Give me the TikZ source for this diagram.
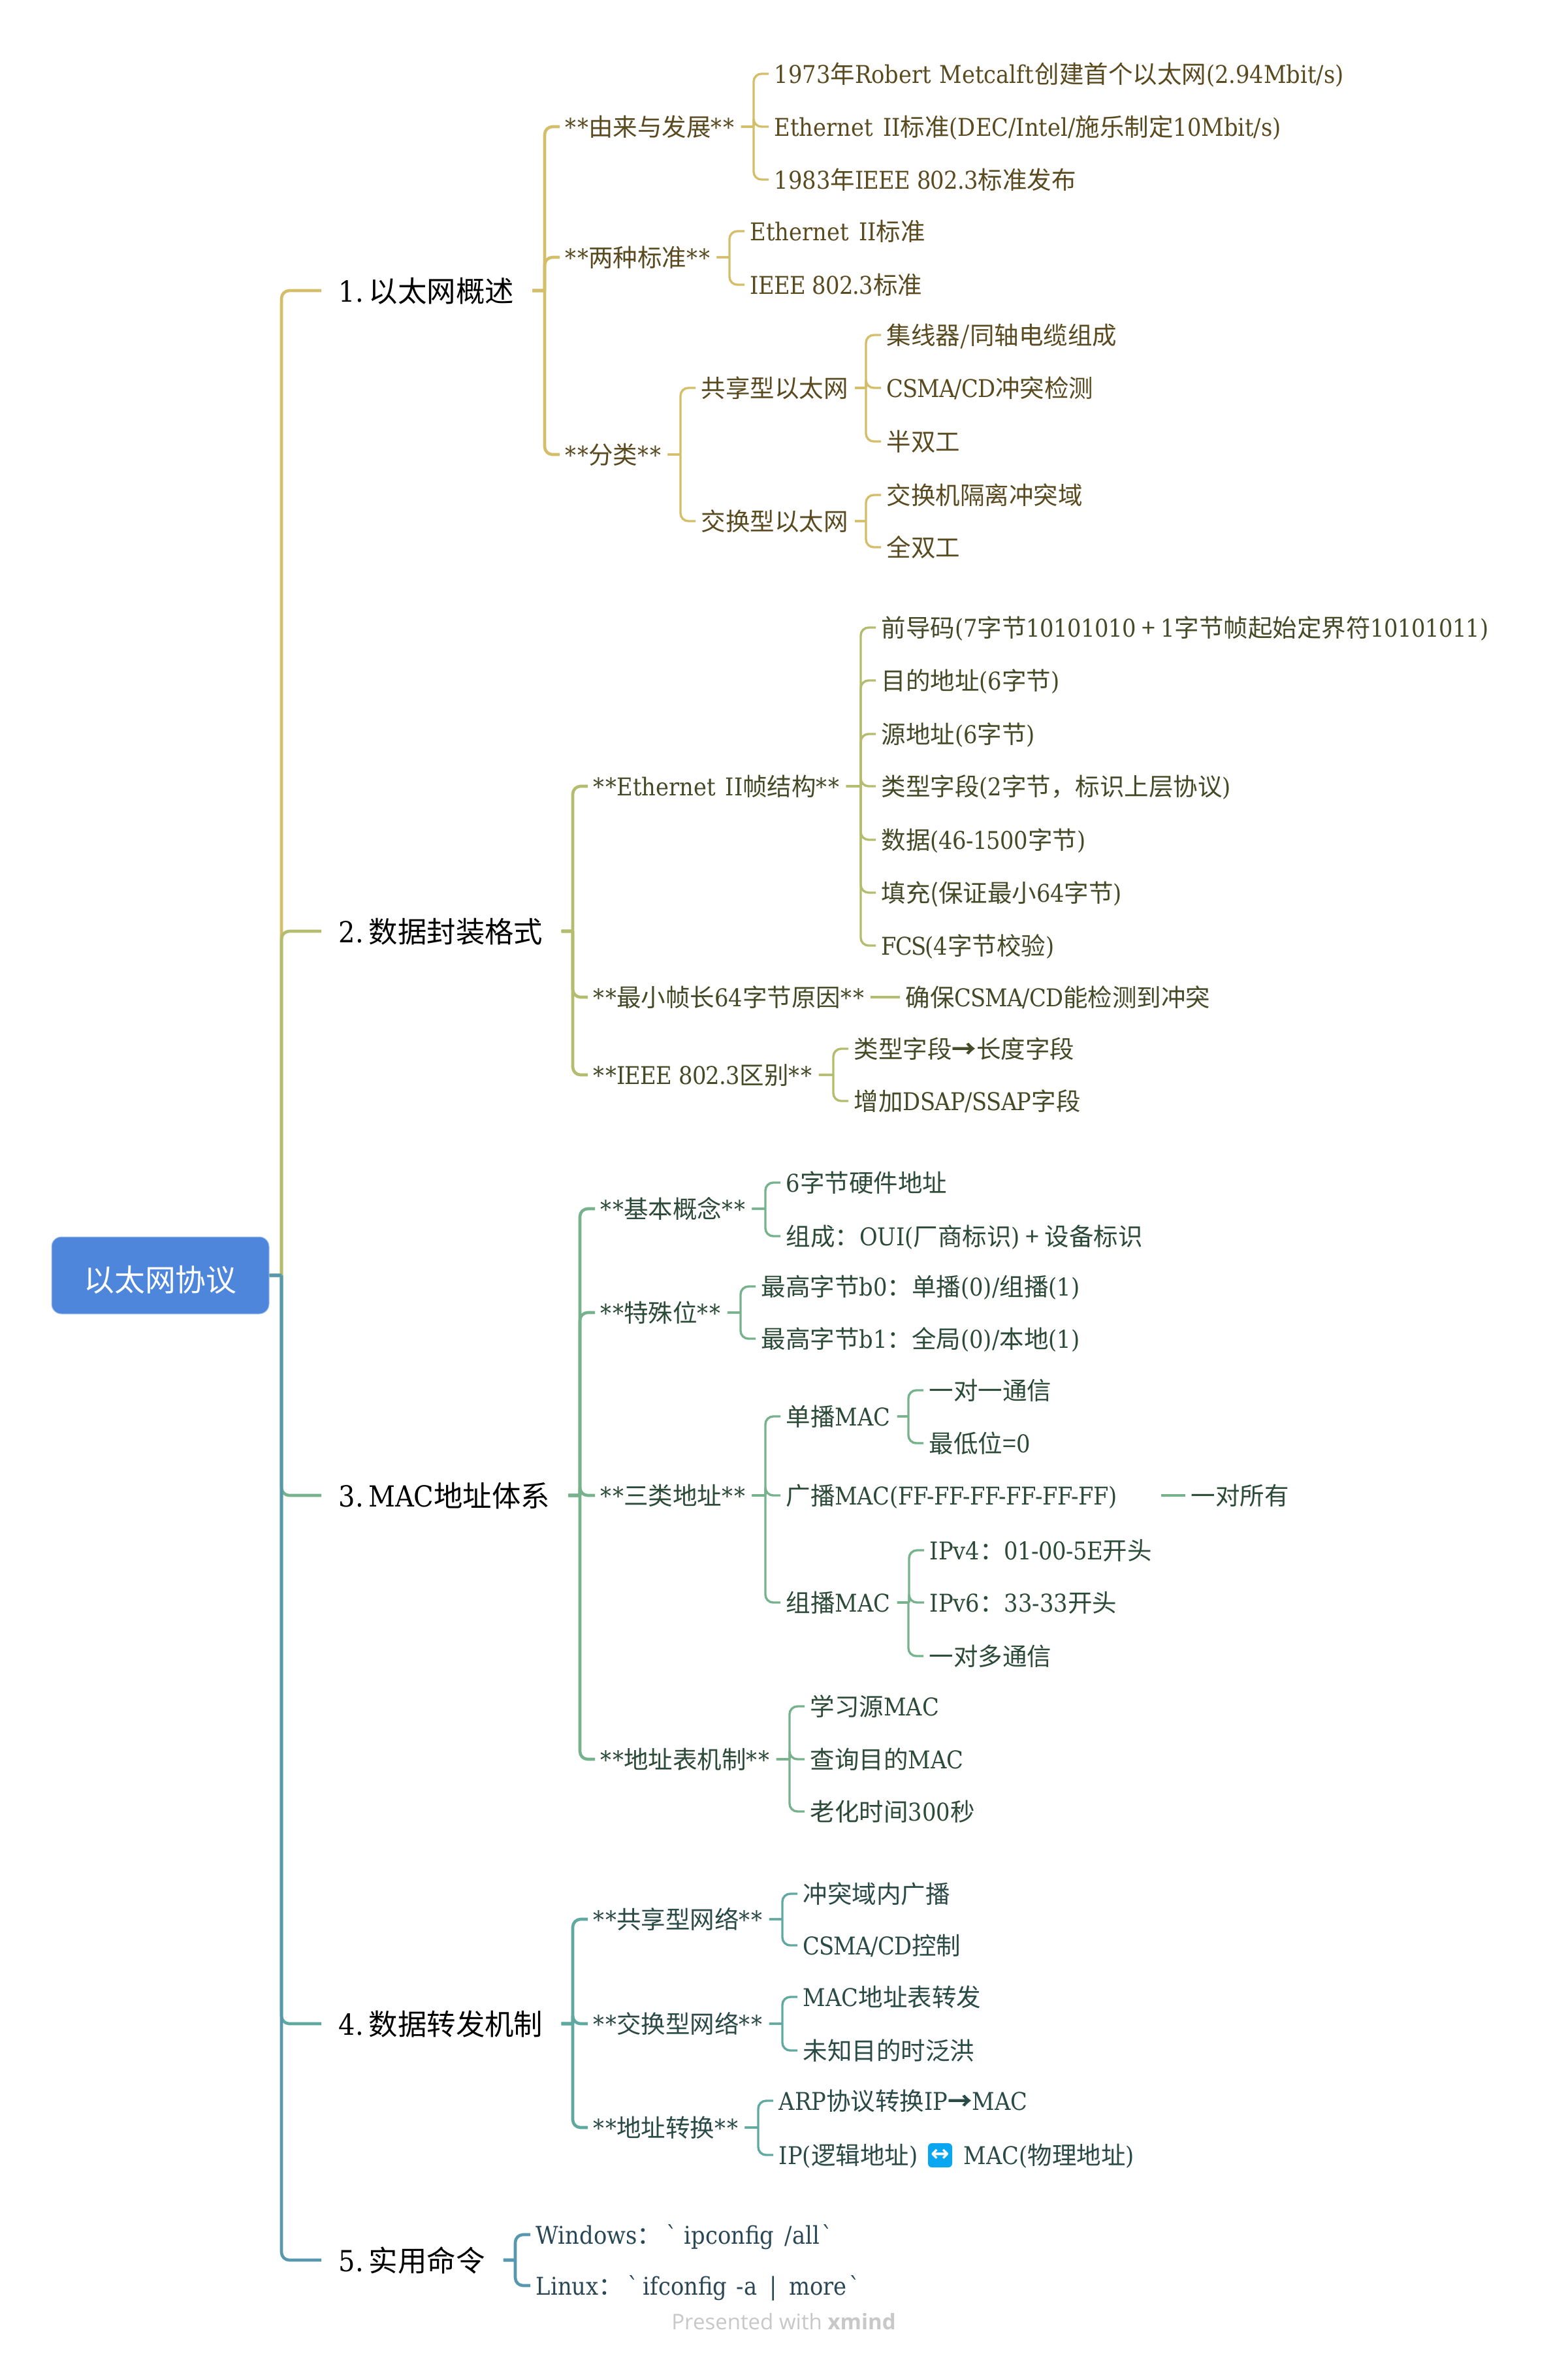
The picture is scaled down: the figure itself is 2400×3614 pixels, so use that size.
\documentclass[tikz,border=0pt]{standalone}
\usepackage{fontspec}
\setmainfont{DejaVu Serif Condensed}
\newfontfamily\cjkf{Noto Sans CJK SC}
\newfontfamily\markf{Open Sans}
\newfontfamily\symf{DejaVu Sans}
\newfontfamily\rawf{DejaVu Serif Condensed}
\newcommand\zh[1]{{\cjkf #1}}
\newcommand\st{{\addfontfeature{LetterSpace=5}**}}
\newcommand\ie{{\addfontfeature{LetterSpace=-2}IEEE 802.3}}
\newcommand\eth{Ethernet\kern2.2pt\ II}
\newcommand\csma{{\addfontfeature{LetterSpace=-2.5}CSMA/CD}}
\newcommand\dg[1]{{\addfontfeature{LetterSpace=-1.5}#1}}
\newcommand\bq{{\rawf\symbol{96}}}
\newcommand\arr{{\cjkf\bfseries →}}
\definecolor{la}{HTML}{D4BE6A}\definecolor{ta}{HTML}{5A4A1F}
\definecolor{lb}{HTML}{B4BC6E}\definecolor{tb}{HTML}{454A26}
\definecolor{lc}{HTML}{76B28C}\definecolor{tc}{HTML}{2B4A38}
\definecolor{ld}{HTML}{5FA9A0}\definecolor{td}{HTML}{2A4A46}
\definecolor{le}{HTML}{5898AE}\definecolor{te}{HTML}{2A4755}
\definecolor{rootc}{HTML}{4E86DC}\definecolor{rootb}{HTML}{A9C4F0}
\definecolor{iconc}{HTML}{0BA6F0}\definecolor{markc}{HTML}{C8C8C8}
\tikzset{
  rootbox/.style={fill=rootc,draw=rootb,line width=0.5pt,rounded corners=7.5pt,minimum width=166.5pt,minimum height=59pt,inner sep=0pt,text=white,text height=24pt,text depth=0pt,font=\fontsize{23.4}{27}\selectfont},
  topic/.style={anchor=west,inner ysep=0pt,inner xsep=14pt,text=black,text height=23.6pt,text depth=6pt,font=\fontsize{22.2}{26}\selectfont,execute at begin node={\hskip-0.8pt}},
  sub/.style={anchor=west,inner ysep=0pt,inner xsep=5pt,text=#1,text height=19.6pt,text depth=5pt,font=\fontsize{18.75}{23}\selectfont,execute at begin node={\hskip-0.8pt}},
  wire/.style={draw=#1,line width=2.3pt},
  thin wire/.style={draw=#1,line width=1.7pt},
}
\newcommand\elbow[4][11.5pt]{\draw[#2] (#3.east) -- ([xshift=-#1]#4.west |- #3.east) [rounded corners=6pt] ([xshift=-#1]#4.west |- #3.east) -- ([xshift=-#1]#4.west) -- (#4.west);}
\begin{document}
\begin{tikzpicture}[x=0.5pt,y=-0.5pt]
\useasboundingbox (0,0) rectangle (2400,3614);
\fill[white] (0,0) rectangle (2400,3614);
\node[rootbox] (root) at (245.5,1953) {\zh{以太网协议}};

% ---------- branch 1
\node[topic] (A) at (492,445) {1.\kern4pt\zh{以太网概述}};
\node[sub=ta] (A1) at (857,194) {\st\zh{由来与发展}\st};
\node[sub=ta] (A11) at (1177,113) {1973\zh{年}Robert\kern1pt\ Metcalft\kern1pt\zh{创建首个以太网}(2.94Mbit/s)};
\node[sub=ta] (A12) at (1177,194) {\eth\zh{标准}(DEC/Intel/\zh{施乐制定}10Mbit/s)};
\node[sub=ta] (A13) at (1177,275) {1983\zh{年}\ie\zh{标准发布}};
\node[sub=ta] (A2) at (857,394) {\st\zh{两种标准}\st};
\node[sub=ta] (A21) at (1140,354) {\eth\zh{标准}};
\node[sub=ta] (A22) at (1140,436) {\ie\zh{标准}};
\node[sub=ta] (A3) at (857,696) {\st\zh{分类}\st};
\node[sub=ta] (A31) at (1065,594) {\zh{共享型以太网}};
\node[sub=ta] (A311) at (1349,513) {\zh{集线器/同轴电缆组成}};
\node[sub=ta] (A312) at (1349,594) {\csma\zh{冲突检测}};
\node[sub=ta] (A313) at (1349,676) {\zh{半双工}};
\node[sub=ta] (A32) at (1065,798) {\zh{交换型以太网}};
\node[sub=ta] (A321) at (1349,758) {\zh{交换机隔离冲突域}};
\node[sub=ta] (A322) at (1349,838) {\zh{全双工}};

% ---------- branch 2
\node[topic] (B) at (492,1426) {2.\kern4pt\zh{数据封装格式}};
\node[sub=tb] (B1) at (900,1204) {\st\eth\zh{帧结构}\st};
\node[sub=tb] (B11) at (1341,961) {\zh{前导码}(7\zh{字节}\dg{10101010}\zh{ + }1\zh{字节帧起始定界符}\dg{10101011})};
\node[sub=tb] (B12) at (1341,1042) {\zh{目的地址}(6\zh{字节})};
\node[sub=tb] (B13) at (1341,1124) {\zh{源地址}(6\zh{字节})};
\node[sub=tb] (B14) at (1341,1204) {\zh{类型字段}(2\zh{字节，标识上层协议})};
\node[sub=tb] (B15) at (1341,1286) {\zh{数据}\dg{(46-1500}\zh{字节})};
\node[sub=tb] (B16) at (1341,1367) {\zh{填充(保证最小}\dg{64}\zh{字节})};
\node[sub=tb] (B17) at (1341,1448) {{\addfontfeature{LetterSpace=-5}FCS(}4\zh{字节校验})};
\node[sub=tb] (B2) at (900,1527) {\st\zh{最小帧长}64\zh{字节原因}\st};
\node[sub=tb] (B21) at (1378,1527) {\zh{确保}\csma\zh{能检测到冲突}};
\node[sub=tb] (B3) at (900,1646) {\st\ie\zh{区别}\st};
\node[sub=tb] (B31) at (1299,1606) {\zh{类型字段}\arr\zh{长度字段}};
\node[sub=tb] (B32) at (1299,1686) {\zh{增加}\dg{DSAP/SSAP}\zh{字段}};

% ---------- branch 3
\node[topic] (C) at (492,2290) {3.\kern4pt{\addfontfeature{LetterSpace=-1}MAC}\zh{地址体系}};
\node[sub=tc] (C1) at (911,1851) {\st\zh{基本概念}\st};
\node[sub=tc] (C11) at (1195,1811) {6\zh{字节硬件地址}};
\node[sub=tc] (C12) at (1195,1893) {\zh{组成：}OUI(\zh{厂商标识})\zh{ + }\zh{设备标识}};
\node[sub=tc] (C2) at (911,2010) {\st\zh{特殊位}\st};
\node[sub=tc] (C21) at (1157,1970) {\zh{最高字节}b0\zh{：单播}(0)/\zh{组播}(1)};
\node[sub=tc] (C22) at (1157,2050) {\zh{最高字节}b1\zh{：全局}(0)/\zh{本地}(1)};
\node[sub=tc] (C3) at (911,2290) {\st\zh{三类地址}\st};
\node[sub=tc] (C31) at (1195,2169) {\zh{单播}MAC};
\node[sub=tc] (C311) at (1414,2129) {\zh{一对一通信}};
\node[sub=tc] (C312) at (1414,2210) {\zh{最低位=}0};
\node[sub=tc,text width=281pt,align=left] (C32) at (1195,2290) {{\addfontfeature{LetterSpace=-1.1}\zh{广播}MAC(FF-FF-FF-FF-FF-FF)}};
\node[sub=tc] (C321) at (1815,2290) {\zh{一对所有}};
\node[sub=tc] (C33) at (1195,2454) {\zh{组播}MAC};
\node[sub=tc] (C331) at (1415,2374) {IPv4\zh{：}\dg{01-00-5E}\zh{开头}};
\node[sub=tc] (C332) at (1415,2454) {IPv6\zh{：}33-33\zh{开头}};
\node[sub=tc] (C333) at (1414,2536) {\zh{一对多通信}};
\node[sub=tc] (C4) at (911,2694) {\st\zh{地址表机制}\st};
\node[sub=tc] (C41) at (1232,2613) {\zh{学习源}MAC};
\node[sub=tc] (C42) at (1232,2694) {\zh{查询目的}MAC};
\node[sub=tc] (C43) at (1232,2774) {\zh{老化时间}300\zh{秒}};

% ---------- branch 4
\node[topic] (D) at (492,3099) {4.\kern4pt\zh{数据转发机制}};
\node[sub=td] (D1) at (900,2939) {\st\zh{共享型网络}\st};
\node[sub=td] (D11) at (1221,2900) {\zh{冲突域内广播}};
\node[sub=td] (D12) at (1221,2979) {\csma\zh{控制}};
\node[sub=td] (D2) at (900,3099) {\st\zh{交换型网络}\st};
\node[sub=td] (D21) at (1221,3058) {MAC\zh{地址表转发}};
\node[sub=td] (D22) at (1221,3140) {\zh{未知目的时泛洪}};
\node[sub=td] (D3) at (900,3258) {\st\zh{地址转换}\st};
\node[sub=td] (D31) at (1184,3217) {ARP\zh{协议转换}IP\arr MAC};
\node[sub=td] (D32) at (1184,3300) {IP(\zh{逻辑地址})};
\node[fill=iconc,text=white,rounded corners=3pt,minimum width=18.5pt,minimum height=18.5pt,inner sep=0pt,font=\symf\bfseries\fontsize{17}{17}\selectfont] (icon) at (1439.5,3300.5) {↔};
\node[sub=td] (D33) at (1467,3300) {MAC(\zh{物理地址})};

% ---------- branch 5
\node[topic] (E) at (492,3461) {5.\kern4pt\zh{实用命令}};
\node[sub=te] (E1) at (812,3422) {Windows\zh{：}\kern4pt\bq\kern5pt ipconfig\kern3pt\ /all\kern1.5pt\bq};
\node[sub=te] (E2) at (812,3500) {Linux\zh{：}\kern3.5pt\bq\kern3.5pt ifconfig\kern2pt\ -a\kern4pt\ |\kern4pt\ more\kern2pt\bq};

\node[anchor=center,text=markc,inner sep=0pt,font=\markf\fontsize{16.5}{20}\selectfont] (mark) at (1200,3555) {Presented with \textbf{xmind}};

% ---------- connectors
\elbow[30.5pt]{wire=la}{root}{A}
\elbow{wire=la}{A}{A1}\elbow{wire=la}{A}{A2}\elbow{wire=la}{A}{A3}
\elbow{thin wire=la}{A1}{A11}\elbow{thin wire=la}{A1}{A12}\elbow{thin wire=la}{A1}{A13}
\elbow{thin wire=la}{A2}{A21}\elbow{thin wire=la}{A2}{A22}
\elbow{thin wire=la}{A3}{A31}\elbow{thin wire=la}{A3}{A32}
\elbow{thin wire=la}{A31}{A311}\elbow{thin wire=la}{A31}{A312}\elbow{thin wire=la}{A31}{A313}
\elbow{thin wire=la}{A32}{A321}\elbow{thin wire=la}{A32}{A322}

\elbow[30.5pt]{wire=lb}{root}{B}
\elbow{wire=lb}{B}{B1}\elbow{wire=lb}{B}{B2}\elbow{wire=lb}{B}{B3}
\elbow{thin wire=lb}{B1}{B11}\elbow{thin wire=lb}{B1}{B12}\elbow{thin wire=lb}{B1}{B13}\elbow{thin wire=lb}{B1}{B14}\elbow{thin wire=lb}{B1}{B15}\elbow{thin wire=lb}{B1}{B16}\elbow{thin wire=lb}{B1}{B17}
\draw[thin wire=lb] (B2) -- (B21);
\elbow{thin wire=lb}{B3}{B31}\elbow{thin wire=lb}{B3}{B32}

\elbow[30.5pt]{wire=lc}{root}{C}
\elbow{wire=lc}{C}{C1}\elbow{wire=lc}{C}{C2}\elbow{wire=lc}{C}{C3}\elbow{wire=lc}{C}{C4}
\elbow{thin wire=lc}{C1}{C11}\elbow{thin wire=lc}{C1}{C12}
\elbow{thin wire=lc}{C2}{C21}\elbow{thin wire=lc}{C2}{C22}
\elbow{thin wire=lc}{C3}{C31}\elbow{thin wire=lc}{C3}{C32}\elbow{thin wire=lc}{C3}{C33}
\elbow{thin wire=lc}{C31}{C311}\elbow{thin wire=lc}{C31}{C312}
\draw[thin wire=lc] (C32) -- (C321);
\elbow{thin wire=lc}{C33}{C331}\elbow{thin wire=lc}{C33}{C332}\elbow{thin wire=lc}{C33}{C333}
\elbow{thin wire=lc}{C4}{C41}\elbow{thin wire=lc}{C4}{C42}\elbow{thin wire=lc}{C4}{C43}

\elbow[30.5pt]{wire=ld}{root}{D}
\elbow{wire=ld}{D}{D1}\elbow{wire=ld}{D}{D2}\elbow{wire=ld}{D}{D3}
\elbow{thin wire=ld}{D1}{D11}\elbow{thin wire=ld}{D1}{D12}
\elbow{thin wire=ld}{D2}{D21}\elbow{thin wire=ld}{D2}{D22}
\elbow{thin wire=ld}{D3}{D31}\elbow{thin wire=ld}{D3}{D32}

\elbow[30.5pt]{wire=le}{root}{E}
\elbow{wire=le}{E}{E1}\elbow{wire=le}{E}{E2}
\end{tikzpicture}
\end{document}
